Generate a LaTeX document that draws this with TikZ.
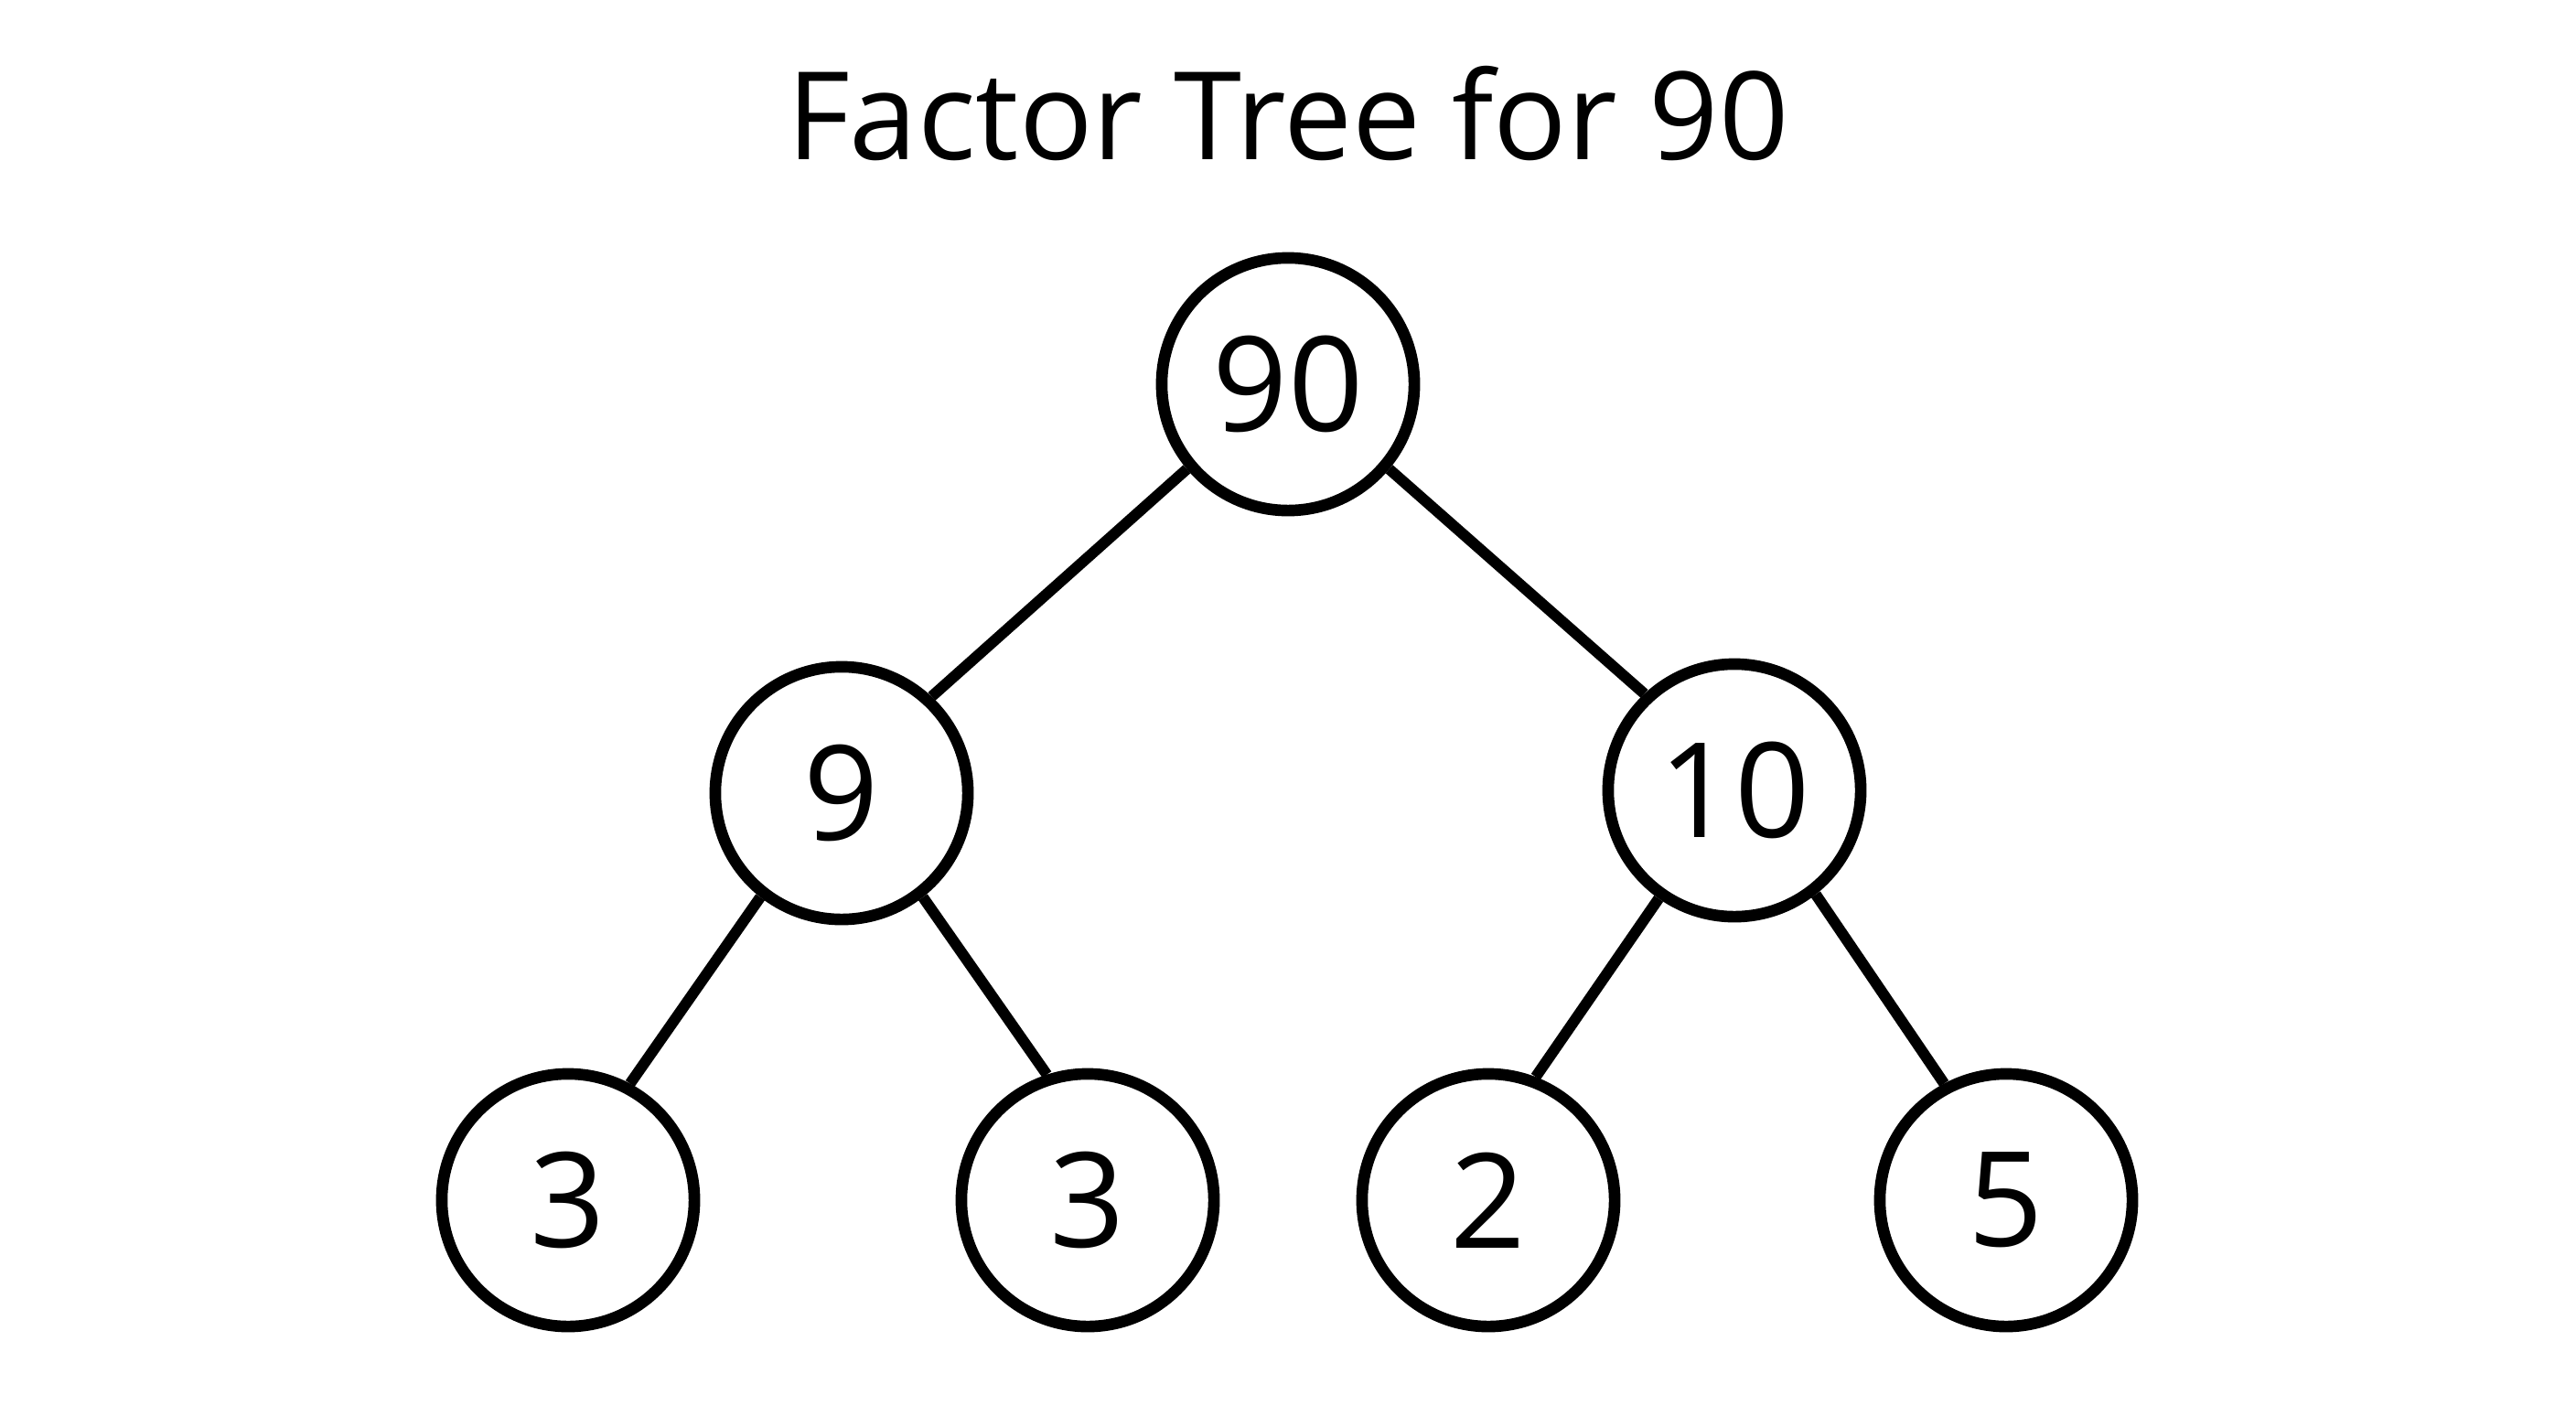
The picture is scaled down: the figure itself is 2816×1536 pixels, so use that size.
\documentclass[tikz,border=0pt]{standalone}
\usepackage{fontspec}
\setmainfont{Open Sans}
\begin{document}
\begin{tikzpicture}[x=0.01cm,y=-0.01cm,
  fnode/.style={circle,draw=black,line width=3.6pt,minimum size=2.76cm,inner sep=0pt,fill=white,font=\fontsize{41}{41}\selectfont},
  edge/.style={draw=black,line width=3.4pt}]
\useasboundingbox[fill=white] (0,0) rectangle (2816,1536);
\node[font=\fontsize{38}{38}\selectfont] (title) at (1408,124) {Factor Tree for 90};
\node[fnode] (n90) at (1408,420) {90};
\node[fnode] (n9) at (920,867) {9};
\node[fnode] (n10) at (1896,864) {10};
\node[fnode] (a3) at (621,1312) {3};
\node[fnode] (b3) at (1189,1312) {3};
\node[fnode] (c2) at (1627,1312) {2};
\node[fnode] (d5) at (2193,1312) {5};
\draw[edge] (n90.220) -- (n9.47);
\draw[edge] (n90.-40) -- (n10.133);
\draw[edge] (n9.-128) -- (a3.62);
\draw[edge] (n9.-52) -- (b3.108);
\draw[edge] (n10.-125) -- (c2.69);
\draw[edge] (n10.-52) -- (d5.118);
\end{tikzpicture}
\end{document}
